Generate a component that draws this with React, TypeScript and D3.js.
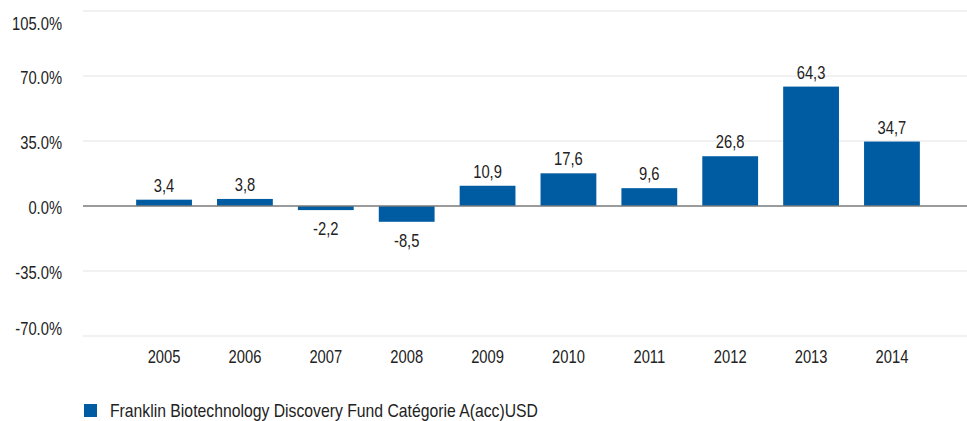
import React from "react";
import * as d3 from "d3";

const years = ["2005", "2006", "2007", "2008", "2009", "2010", "2011", "2012", "2013", "2014"];
const returns = [3.4, 3.8, -2.2, -8.5, 10.9, 17.6, 9.6, 26.8, 64.3, 34.7];
const yTicks = [-70, -35, 0, 35, 70, 105];
const seriesName = "Franklin Biotechnology Discovery Fund Catégorie A(acc)USD";

const width = 967;
const height = 421;
const margin = { top: 11, right: 0, bottom: 85, left: 83 };
const font = "'Liberation Sans', Arial, sans-serif";
const blue = "#005ca2";
const ink = "#222";

// narrow-looking text: regular sans squeezed horizontally
function NText({ x, y, anchor = "start", baseline, sx = 0.82, children }: any) {
  return (
    <text
      transform={`translate(${x},${y}) scale(${sx},1)`}
      textAnchor={anchor}
      dominantBaseline={baseline}
      fontSize={18}
      fill={ink}
    >
      {children}
    </text>
  );
}

export default function App() {
  let x = d3
    .scaleBand()
    .domain(years)
    .range([margin.left + 3, width + 3])
    .paddingInner(0.31)
    .paddingOuter(0.62);

  let y = d3
    .scaleLinear()
    .domain([-70, 105])
    .range([height - margin.bottom, margin.top]);

  let fmt = (v: number) => d3.format(".1f")(v).replace(".", ",").replace("−", "-");

  return (
    <svg
      width={width}
      height={height}
      style={{ position: "absolute", left: 0, top: 0, background: "#fff" }}
      fontFamily={font}
    >
      {/* grid + y labels */}
      {yTicks.map((t) => (
        <g key={t}>
          {t !== 0 && (
            <line
              x1={margin.left}
              x2={width - margin.right}
              y1={y(t)}
              y2={y(t)}
              stroke="#e3e3e3"
              strokeWidth={1}
            />
          )}
          <NText
            x={62}
            y={Math.max(25, Math.min(330, y(t) + 3))}
            anchor="end"
            baseline="middle"
          >
            {d3.format(".1f")(t).replace("−", "-") + "%"}
          </NText>
        </g>
      ))}

      {/* bars */}
      {years.map((yr, i) => {
        let v = returns[i];
        let top = y(Math.max(0, v));
        let h = Math.abs(y(v) - y(0));
        let cx = (x(yr) as number) + x.bandwidth() / 2;
        return (
          <g key={yr}>
            <rect x={x(yr)} y={top} width={x.bandwidth()} height={h} fill={blue} />
            <NText x={cx} y={v >= 0 ? y(v) - 8 : y(v) + 25} anchor="middle">
              {fmt(v)}
            </NText>
            <NText x={cx} y={363} anchor="middle">
              {yr}
            </NText>
          </g>
        );
      })}

      {/* zero line */}
      <line
        x1={margin.left}
        x2={width - margin.right}
        y1={y(0)}
        y2={y(0)}
        stroke="#7a7a7a"
        strokeWidth={1.5}
      />

      {/* legend */}
      <rect x={84} y={404} width={13} height={13} fill={blue} />
      <NText x={110} y={417} sx={0.875}>
        {seriesName}
      </NText>
    </svg>
  );
}
